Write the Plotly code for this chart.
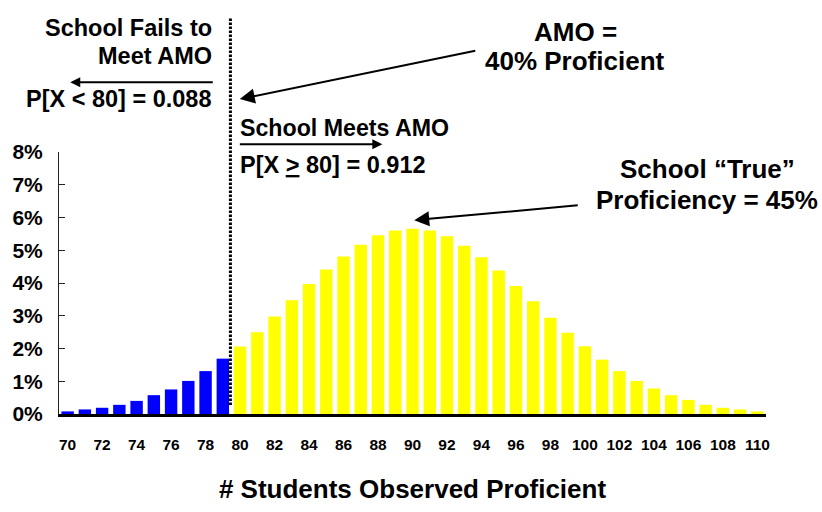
import plotly.graph_objects as go

# ---- data ----
students = list(range(70, 111))
prob_pct = [0.08, 0.14, 0.19, 0.28, 0.40, 0.575, 0.75, 1.01, 1.31, 1.69,
            2.06, 2.50, 2.98, 3.47, 3.97, 4.41, 4.81, 5.17, 5.46, 5.60, 5.66,
            5.60, 5.43, 5.14, 4.79, 4.38, 3.91, 3.44, 2.94, 2.48, 2.07,
            1.66, 1.31, 1.01, 0.78, 0.575, 0.43, 0.28, 0.19, 0.14, 0.08]
amo_cut = 80
x_ticks = list(range(70, 111, 2))
x_labels = [str(v) for v in x_ticks]
y_ticks = list(range(0, 9))
y_labels = [f"{v}%" for v in y_ticks]

FONT = "Liberation Sans, Arial, sans-serif"
W, H = 822, 512
# plot area in screen pixels
SL, SR, ST, SB = 56.7, 765.8, 152.0, 426.0
L, T = SL, ST
R, B = W - SR, H - SB
PW, PH = W - L - R, H - T - B


def px(xs):
    return (xs - L) / PW


def py(ys):
    return (H - B - ys) / PH


colors = ["#0000FF" if s < amo_cut else "#FFFF00" for s in students]

fig = go.Figure()
fig.add_trace(go.Bar(x=students, y=prob_pct, marker=dict(color=colors, line=dict(width=0)),
                     showlegend=False, hoverinfo="x+y"))

# dotted AMO line
fig.add_shape(type="line", xref="x", yref="paper", x0=amo_cut - 0.56, x1=amo_cut - 0.56,
              y0=py(416.7), y1=py(11.7), line=dict(color="black", width=3, dash="2.5px,1.5px"))

ann = []


def txt(t, x, y, size, xanchor="center"):
    ann.append(dict(text=t, x=px(x), y=py(y), xref="paper", yref="paper",
                    xanchor=xanchor, yanchor="middle", showarrow=False,
                    font=dict(family=FONT, size=size, color="black", weight="bold")))


def arrow(x_tail, y_tail, x_tip, y_tip, size=1.0):
    ann.append(dict(text="", x=px(x_tip), y=py(y_tip), xref="paper", yref="paper",
                    ax=x_tail - x_tip, ay=y_tail - y_tip, axref="pixel", ayref="pixel",
                    showarrow=True, arrowhead=2, arrowsize=size, arrowwidth=2,
                    arrowcolor="black", standoff=0, startstandoff=0))


txt("School Fails to", 212, 22.2, 23.5, "right")
txt("Meet AMO", 212, 51.3, 23.5, "right")
arrow(212, 79, 68, 79)
txt("P[X &lt; 80] = 0.088", 212, 96.7, 23.5, "right")

txt("School Meets AMO", 236, 126.5, 23.2, "left")
arrow(237, 144, 381, 144)
txt("P[X <u>&gt;</u> 80] = 0.912", 236, 166, 23.5, "left")

txt("AMO =", 575, 26, 26, "center")
txt("40% Proficient", 574, 57, 26, "center")
arrow(475, 48, 238, 96.7, 1.5)

txt("School \u201cTrue\u201d", 707.5, 170, 26, "center")
txt("Proficiency = 45%", 706.5, 202, 26, "center")
arrow(578, 208.3, 413, 223.3, 1.5)

fig.update_layout(
    width=W, height=H,
    margin=dict(l=L, r=R, t=T, b=B, pad=0),
    paper_bgcolor="white", plot_bgcolor="white",
    bargap=0.28,
    annotations=ann,
    font=dict(family=FONT, color="black"),
    xaxis=dict(range=[69.5, 110.5], tickvals=x_ticks, ticktext=x_labels,
               showgrid=False, zeroline=False, showline=True, linecolor="black", linewidth=3,
               ticks="", tickfont=dict(family=FONT, size=15.5, color="black", weight="bold"),
               ticklabelstandoff=14,
               title=dict(text="# Students Observed Proficient",
                          font=dict(family=FONT, size=26, color="black", weight="bold"),
                          standoff=29)),
    yaxis=dict(range=[0, 8], tickvals=y_ticks, ticktext=y_labels,
               showgrid=False, zeroline=False, showline=True, linecolor="#222222", linewidth=1,
               ticks="inside", ticklen=6, tickcolor="#222222", tickwidth=1,
               tickfont=dict(family=FONT, size=21, color="black", weight="bold"),
               ticklabelstandoff=11),
)

fig.write_html("out.html", config={"displayModeBar": False},
               post_script="document.body.style.margin='0';document.body.style.overflow='hidden';")
